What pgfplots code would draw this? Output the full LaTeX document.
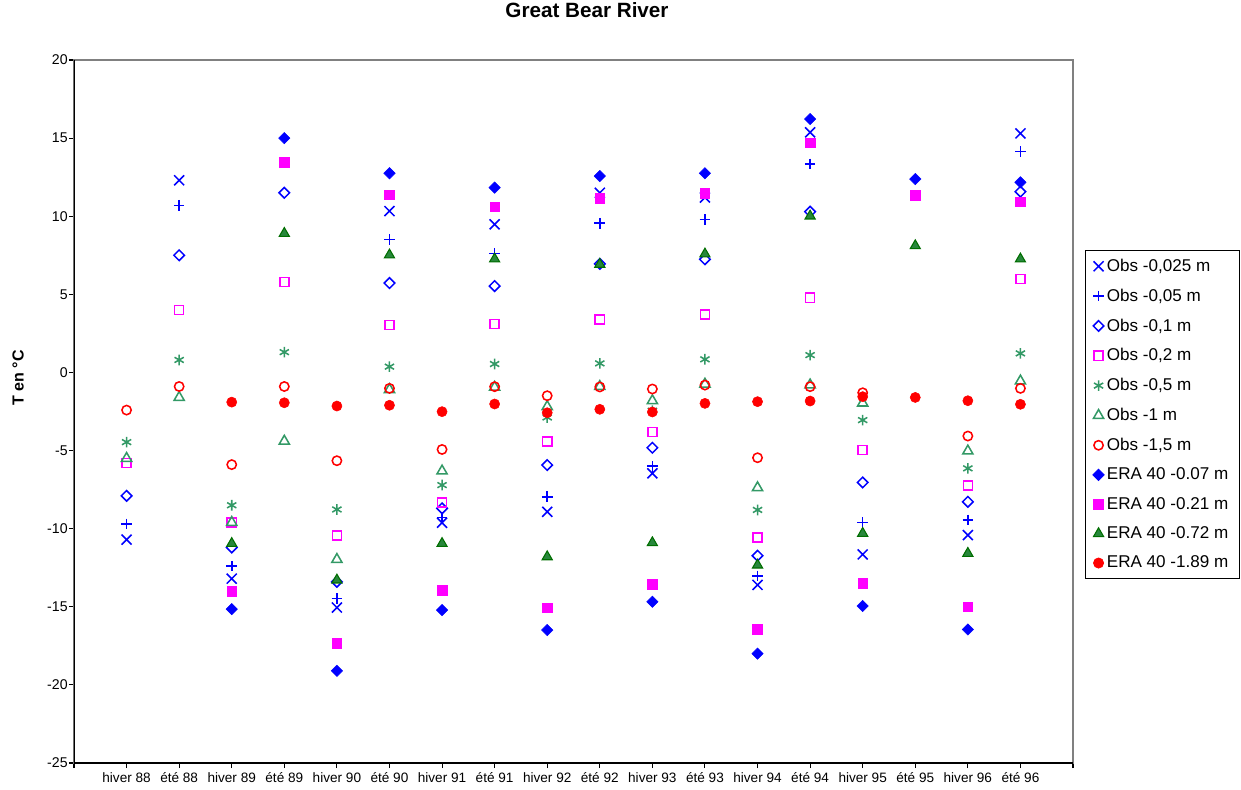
\documentclass[border=0pt]{standalone}
\usepackage{fontspec}
\setmainfont{Liberation Sans}
\usepackage{pgfplots}
\pgfplotsset{compat=1.18}

\definecolor{obsblue}{RGB}{0,0,255}
\definecolor{obsmag}{RGB}{255,0,255}
\definecolor{seagr}{RGB}{51,153,102}
\definecolor{erafill}{RGB}{40,135,60}
\definecolor{eradraw}{RGB}{0,110,0}
\definecolor{obsred}{RGB}{255,0,0}

\begin{document}
\begin{tikzpicture}
% picture frame: 1241 x 789 px at 0.75pt/px, plot area lower left at origin
\useasboundingbox (-55.5pt,-19.5pt) rectangle (875.25pt,572.25pt);
\begin{axis}[
    scale only axis,
    width=749.25pt, height=527.25pt,
    xmin=0, xmax=19,
    ymin=-25, ymax=20,
    xtick={0,...,19},
    xticklabels={,hiver 88,été 88,hiver 89,été 89,hiver 90,été 90,hiver 91,été 91,hiver 92,été 92,hiver 93,été 93,hiver 94,été 94,hiver 95,été 95,hiver 96,été 96,},
    ytick={-25,-20,...,20},
    yticklabels={-25,-20,-15,-10,-5,0,5,10,15,20},
    tick align=outside, tick pos=left,
    major tick length=3.75pt,
    tick style={black, line width=0.8pt},
    axis line style={gray, line width=0.8pt},
    ticklabel style={font=\fontsize{10.2}{12}\selectfont},
    yticklabel style={xshift=2.5pt, font=\fontsize{10.6}{12}\selectfont},
    title={Great Bear River},
    title style={at={(axis description cs:0.5135,1.0597)}, anchor=center,
        font=\bfseries\fontsize{15.5}{18}\selectfont},
    ylabel={T en °C},
    ylabel style={at={(axis description cs:-0.056,0.548)}, anchor=center,
        font=\bfseries\fontsize{12}{14}\selectfont},
    only marks,
    legend style={at={(axis description cs:1.0115,0.7297)}, anchor=north west,
        draw=black, line width=0.6pt, font=\fontsize{12.8}{15}\selectfont,
        row sep=7.6pt, inner xsep=6pt, inner ysep=4.5pt},
    legend cell align=left,
]

\addplot[mark=x, mark size=5.3pt, obsblue, mark options={draw=obsblue, line width=1.15pt}] coordinates {
    (1,-10.7) (2,12.3) (3,-13.2) (5,-15.05) (6,10.33) (7,-9.62) (8,9.48)
    (9,-8.92) (10,11.5) (11,-6.46) (12,11.2) (13,-13.6) (14,15.37)
    (15,-11.65) (17,-10.41) (18,15.3)
};
\addlegendentry{Obs -0,025 m}

\addplot[mark=+, mark size=4pt, obsblue, mark options={draw=obsblue, line width=1.15pt}] coordinates {
    (1,-9.7) (2,10.7) (3,-12.4) (5,-14.46) (6,8.52) (7,-9.28) (8,7.62)
    (9,-7.96) (10,9.55) (11,-6.0) (12,9.8) (13,-13.03) (14,13.34)
    (15,-9.6) (17,-9.45) (18,14.13)
};
\addlegendentry{Obs -0,05 m}

\addplot[mark=square, mark size=2.8pt, obsblue, mark options={draw=obsblue, rotate=45, line width=1.15pt}] coordinates {
    (1,-7.9) (2,7.5) (3,-11.2) (4,11.5) (5,-13.4) (6,5.72) (7,-8.7) (8,5.53)
    (9,-5.93) (10,6.95) (11,-4.82) (12,7.24) (13,-11.73) (14,10.29)
    (15,-7.04) (17,-8.28) (18,11.57)
};
\addlegendentry{Obs -0,1 m}

\addplot[mark=square, mark size=3.4pt, obsmag, mark options={draw=obsmag, line width=1.15pt}] coordinates {
    (1,-5.8) (2,4.0) (3,-9.6) (4,5.8) (5,-10.45) (6,3.03) (7,-8.32) (8,3.1)
    (9,-4.43) (10,3.4) (11,-3.8) (12,3.72) (13,-10.58) (14,4.78)
    (15,-4.97) (17,-7.25) (18,5.98)
};
\addlegendentry{Obs -0,2 m}

\addplot[mark=asterisk, mark size=4pt, seagr, mark options={draw=seagr, line width=1.15pt}] coordinates {
    (1,-4.46) (2,0.8) (3,-8.5) (4,1.3) (5,-8.77) (6,0.37) (7,-7.21) (8,0.54)
    (9,-2.88) (10,0.58) (11,-2.45) (12,0.84) (13,-8.8) (14,1.11)
    (15,-3.05) (17,-6.14) (18,1.22)
};
\addlegendentry{Obs -0,5 m}

\addplot[mark=triangle, mark size=4.4pt, seagr, mark options={draw=seagr, line width=1.15pt}] coordinates {
    (1,-5.5) (2,-1.6) (3,-9.6) (4,-4.4) (5,-11.97) (6,-1.1) (7,-6.31) (8,-0.95)
    (9,-2.19) (10,-0.9) (11,-1.81) (12,-0.75) (13,-7.38) (14,-0.8)
    (15,-1.96) (17,-5.03) (18,-0.55)
};
\addlegendentry{Obs -1 m}

\addplot[mark=o, mark size=3.5pt, obsred, mark options={draw=obsred, line width=1.15pt}] coordinates {
    (1,-2.41) (2,-0.9) (3,-5.9) (4,-0.9) (5,-5.65) (6,-1.02) (7,-4.93) (8,-0.91)
    (9,-1.49) (10,-0.93) (11,-1.06) (12,-0.81) (13,-5.46) (14,-0.91)
    (15,-1.3) (17,-4.07) (18,-1.02)
};
\addlegendentry{Obs -1,5 m}

\addplot[mark=square*, mark size=3.0pt, obsblue, mark options={draw=obsblue, fill=obsblue, rotate=45}] coordinates {
    (3,-15.15) (4,15.0) (5,-19.1) (6,12.75) (7,-15.21) (8,11.83) (9,-16.49)
    (10,12.57) (11,-14.68) (12,12.75) (13,-18.0) (14,16.22) (15,-14.95)
    (16,12.38) (17,-16.45) (18,12.17)
};
\addlegendentry{ERA 40 -0.07 m}

\addplot[mark=square*, mark size=3.6pt, obsmag, mark options={draw=obsmag, fill=obsmag}] coordinates {
    (3,-14.0) (4,13.45) (5,-17.35) (6,11.38) (7,-13.93) (8,10.6) (9,-15.06)
    (10,11.15) (11,-13.55) (12,11.47) (13,-16.43) (14,14.71) (15,-13.5)
    (16,11.36) (17,-15.0) (18,10.93)
};
\addlegendentry{ERA 40 -0.21 m}

\addplot[mark=triangle*, mark size=4.4pt, eradraw, mark options={fill=erafill, draw=eradraw, line width=0.8pt}] coordinates {
    (3,-10.95) (4,8.9) (5,-13.29) (6,7.52) (7,-10.95) (8,7.26) (9,-11.8)
    (10,6.92) (11,-10.9) (12,7.58) (13,-12.33) (14,10.01) (15,-10.3)
    (16,8.11) (17,-11.58) (18,7.26)
};
\addlegendentry{ERA 40 -0.72 m}

\addplot[mark=*, mark size=3.8pt, obsred, mark options={draw=obsred, fill=obsred}] coordinates {
    (3,-1.9) (4,-1.94) (5,-2.15) (6,-2.1) (7,-2.51) (8,-2.02) (9,-2.58)
    (10,-2.36) (11,-2.53) (12,-1.98) (13,-1.87) (14,-1.83) (15,-1.55)
    (16,-1.6) (17,-1.81) (18,-2.04)
};
\addlegendentry{ERA 40 -1.89 m}

\draw[black, line width=0.8pt] (rel axis cs:0,1) -- (rel axis cs:0,0) -- (rel axis cs:1,0);
\end{axis}
\end{tikzpicture}
\end{document}
